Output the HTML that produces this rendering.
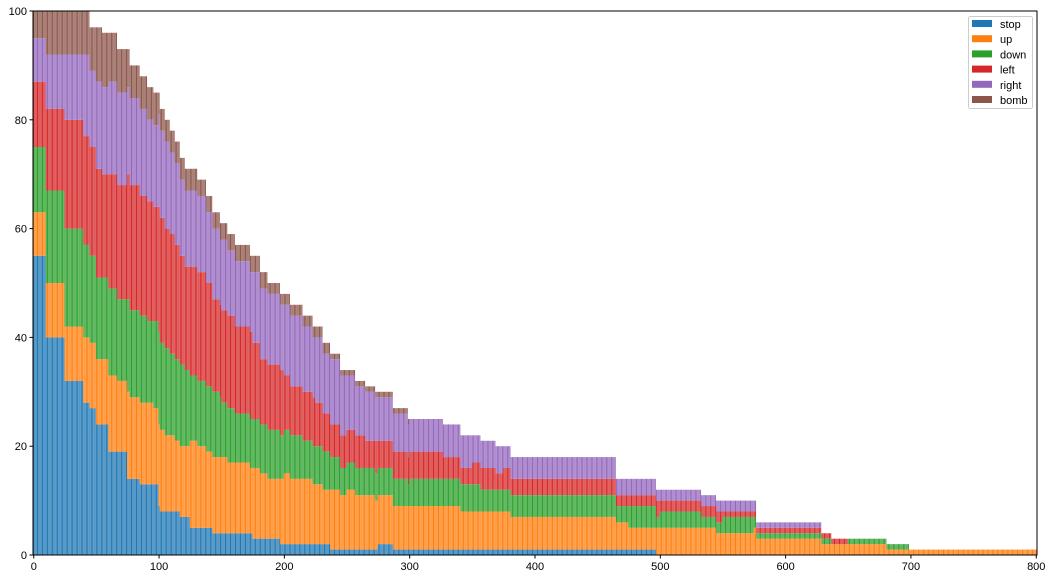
<!DOCTYPE html>
<html><head><meta charset="utf-8"><style>
body{margin:0;background:#fff;font-family:"Liberation Sans",sans-serif}
svg text{font-family:"Liberation Sans",sans-serif;font-size:11px;fill:#000}
</style></head><body>
<svg id="chart" width="1052" height="579" xmlns="http://www.w3.org/2000/svg">
<g id="bars"></g>
<g id="axes"></g>
<g id="legend"></g>
</svg>
<script>
const seriesNames=["stop","up","down","left","right","bomb"];
const colors=["#1f77b4","#ff7f0e","#2ca02c","#d62728","#9467bd","#8c564b"];
// totals as run-length [value, count]
const totalRuns=[[100,45],[97,10],[96,12],[93,10],[90,8],[88,6],[86,5],[85,5],[82,4],[80,4],[78,4],[76,4],[73,4],[71,10],[69,7],[66,5],[63,6],[61,6],[59,6],[57,12],[55,8],[52,6],[50,10],[48,8],[46,10],[44,8],[42,8],[39,6],[37,8],[34,12],[32,8],[31,8],[30,14],[27,12],[25,28],[24,14],[22,16],[21,12],[20,12],[18,84],[14,32],[12,36],[11,12],[10,32],[6,52],[4,8],[3,44],[2,18],[1,102]];
// composition anchors
const anchorStart=[0,10,25,40,50,60,75,100,125,150,175,200,225,250,275,300,325,350,375,400,425,450,475,500,525,550,575,600,625,650,675,700];
const stopFrac=[.55,.4,.32,.28,.25,.2,.15,.1,.07,.07,.05,.04,.04,.04,.05,.04,.04,.05,.05,.05,.05,.05,.04,.04,.04,.04,.03,.03,.02,0,0,0];
const upFrac=[.08,.1,.1,.12,.12,.14,.17,.18,.22,.22,.24,.27,.28,.3,.3,.32,.33,.33,.33,.33,.33,.35,.35,.37,.38,.4,.42,.45,.5,.6,.7,1];
const downFrac=[.12,.17,.18,.17,.16,.17,.18,.2,.18,.17,.17,.17,.16,.17,.18,.2,.2,.2,.22,.22,.22,.22,.22,.22,.22,.22,.22,.22,.22,.25,.2,0];
const leftFrac=[.12,.15,.2,.2,.2,.22,.25,.27,.28,.28,.24,.2,.18,.18,.17,.18,.17,.17,.18,.2,.18,.18,.2,.18,.18,.16,.16,.15,.14,.1,.05,0];
const rightFrac=[.08,.1,.12,.15,.17,.18,.18,.2,.2,.21,.25,.28,.3,.28,.27,.24,.24,.23,.2,.18,.2,.18,.17,.17,.16,.15,.15,.13,.1,.05,.05,0];
const xTicks=[0,100,200,300,400,500,600,700,800];
const yTicks=[0,20,40,60,80,100];

const L=33,R=1037,T=11,B=555,XMIN=-0.6,XMAX=800.6;
const xs=v=>L+(v-XMIN)/(XMAX-XMIN)*(R-L);
const ys=v=>B-v/100*(B-T);
const NS="http://www.w3.org/2000/svg";
function mk(tag,attrs,parent){const e=document.createElementNS(NS,tag);for(const k in attrs)e.setAttribute(k,attrs[k]);parent.appendChild(e);return e;}

const totals=[];
totalRuns.forEach(r=>{for(let i=0;i<r[1];i++)totals.push(r[0]);});
const n=Math.min(totals.length,801);
const bars=document.getElementById('bars');
const fr=[stopFrac,upFrac,downFrac,leftFrac,rightFrac];
for(let i=0;i<n;i++){
  let a=0;for(let k=0;k<anchorStart.length;k++)if(anchorStart[k]<=i)a=k;
  const tot=totals[i];
  let cum=0,prev=0;
  for(let s=0;s<6;s++){
    cum+= s<5?fr[s][a]:0;
    let top=s<5?Math.round(tot*cum):tot;
    if(top>tot)top=tot;
    const v=top-prev;
    if(v>0){
      const r=mk('rect',{x:xs(i-0.4),y:ys(top),width:xs(i+0.4)-xs(i-0.4),height:ys(prev)-ys(top),fill:colors[s]},bars);
      
      
    }
    prev=top;
  }
}
const ax=document.getElementById('axes');
const fr1=mk('rect',{x:L,y:T,width:R-L,height:B-T,fill:'none',stroke:'#000','stroke-width':1},ax);


xTicks.forEach(t=>{
  mk('line',{x1:xs(t),x2:xs(t),y1:B,y2:B+3.5,stroke:'#000'},ax);
  const tx=mk('text',{x:xs(t),y:B+15,'text-anchor':'middle'},ax);tx.textContent=t;
  
  
});
yTicks.forEach(t=>{
  mk('line',{x1:L-3.5,x2:L,y1:ys(t),y2:ys(t),stroke:'#000'},ax);
  const tx=mk('text',{x:L-6,y:ys(t)+4,'text-anchor':'end'},ax);tx.textContent=t;
  
  
});
const lg=document.getElementById('legend');
const box=mk('rect',{x:968.5,y:16.5,width:64,height:92,fill:'#fff','fill-opacity':0.8,stroke:'#ccc',rx:2},lg);


seriesNames.forEach((nm,i)=>{
  const y=24+i*15.2;
  const p=mk('rect',{x:972,y:y-4,width:20,height:7,fill:colors[i]},lg);
  
  
  const t=mk('text',{x:1000,y:y+4},lg);t.textContent=nm;
  
  
});
</script>
</body></html>
